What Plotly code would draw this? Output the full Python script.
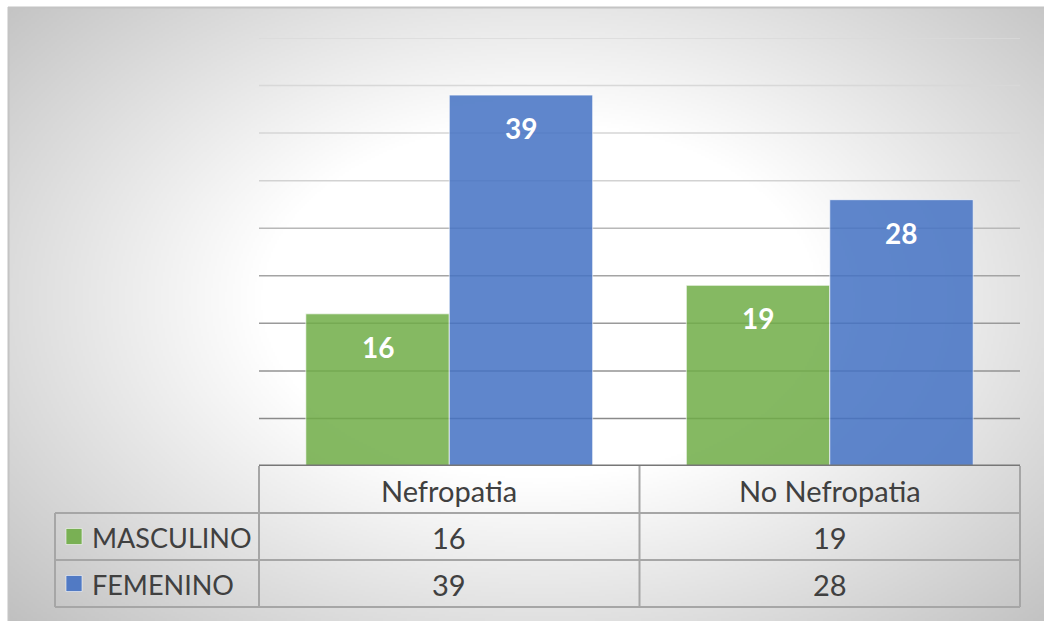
import base64
import struct
import zlib

import numpy as np
import plotly.graph_objects as go

# ---- data -----------------------------------------------------------------
categories = ["Nefropatia", "No Nefropatia"]
series_names = ["MASCULINO", "FEMENINO"]
masculino = [16, 19]
femenino = [39, 28]
y_ticks = [5, 10, 15, 20, 25, 30, 35, 40, 45]

# ---- styling --------------------------------------------------------------
series_values = [masculino, femenino]
series_colors = ["#70ad47", "#4472c4"]
grid_colors = ["#8a8a8a", "#939393", "#9a9a9a", "#a4a4a4", "#b8b8b8",
               "#d2d2d2", "#d6d6d6", "#d8d8d8", "#dadada"]
FONT = "Lato"
TEXT = "#404040"

W, H = 1044, 621
ML, MR, MT, MB = 259, 24, 38, 155
PW = W - ML - MR
PH = H - MT - MB
BARGAP = 0.246


def px(x):
    """Pixel column -> paper x."""
    return (x - ML) / PW


def py(y):
    """Pixel row -> paper y."""
    return (H - MB - y) / PH


def gradient_png(w, h):
    """Soft radial gray-to-white fill for the chart area, as a PNG data URI."""
    xs = np.linspace(8, W, w)
    ys = np.linspace(7, H, h)
    X, Y = np.meshgrid(xs, ys)
    r = np.sqrt(((X - 540) / 560) ** 2 + ((Y - 300) / 360) ** 2)
    v = np.clip(255 - 78 * np.clip(r - 0.5, 0, None), 188, 255).astype(np.uint8)
    raw = b"".join(b"\x00" + row.tobytes() for row in v)

    def chunk(tag, data):
        return (struct.pack(">I", len(data)) + tag + data
                + struct.pack(">I", zlib.crc32(tag + data) & 0xFFFFFFFF))

    png = (b"\x89PNG\r\n\x1a\n"
           + chunk(b"IHDR", struct.pack(">IIBBBBB", w, h, 8, 0, 0, 0, 0))
           + chunk(b"IDAT", zlib.compress(raw, 9))
           + chunk(b"IEND", b""))
    return "data:image/png;base64," + base64.b64encode(png).decode()


fig = go.Figure()

for name, vals, col in zip(series_names, series_values, series_colors):
    fig.add_bar(
        x=categories, y=vals, name=name,
        marker=dict(color=col, opacity=0.85,
                    line=dict(color="rgba(255,255,255,0.7)", width=1)),
        showlegend=False, hoverinfo="x+y+name",
    )

shapes = []
annotations = []

# horizontal gridlines
for t, gc in zip(y_ticks, grid_colors):
    shapes.append(dict(type="line", xref="paper", yref="y", x0=0, x1=1,
                       y0=t, y1=t, layer="below",
                       line=dict(color=gc, width=1.5)))

# value labels inside the bars
half = (1 - BARGAP) / 4
for s, vals in enumerate(series_values):
    off = -half if s == 0 else half
    for i, v in enumerate(vals):
        annotations.append(dict(
            x=i + off, y=v, xref="x", yref="y", text="<b>%d</b>" % v,
            showarrow=False, yshift=-33, yanchor="middle", xanchor="center",
            font=dict(family=FONT, size=28, color="white")))

# data table under the plot
line_c = "#a6a6a6"
row_header, row1, row2, row_bot = 466, 513, 560, 607
for yy in (row1, row2, row_bot):
    shapes.append(dict(type="line", xref="paper", yref="paper",
                       x0=px(55), x1=1, y0=py(yy), y1=py(yy),
                       line=dict(color=line_c, width=2)))
for xx in (0, 0.5, 1):
    shapes.append(dict(type="line", xref="paper", yref="paper",
                       x0=xx, x1=xx, y0=py(row_header), y1=py(row_bot),
                       line=dict(color=line_c, width=2)))
shapes.append(dict(type="line", xref="paper", yref="paper",
                   x0=px(55), x1=px(55), y0=py(row1), y1=py(row_bot),
                   line=dict(color=line_c, width=2)))
# category axis baseline
shapes.append(dict(type="line", xref="paper", yref="y", x0=0, x1=1,
                   y0=0, y1=0, line=dict(color="#777777", width=3)))

for i, cat in enumerate(categories):
    annotations.append(dict(x=i, y=py((row_header + row1) / 2 + 1), xref="x",
                            yref="paper", text=cat, showarrow=False,
                            xanchor="center", yanchor="middle",
                            font=dict(family=FONT, size=29, color=TEXT)))
row_mid = [(row1 + row2) / 2, (row2 + row_bot) / 2]
for s, (name, vals, col) in enumerate(zip(series_names, series_values,
                                           series_colors)):
    ym = row_mid[s]
    for i, v in enumerate(vals):
        annotations.append(dict(x=i, y=py(ym + 1), xref="x", yref="paper",
                                text=str(v), showarrow=False,
                                xanchor="center", yanchor="middle",
                                font=dict(family=FONT, size=29, color=TEXT)))
    annotations.append(dict(x=px(90), y=py(ym + 1), xref="paper", yref="paper",
                            text=name, showarrow=False, xanchor="left",
                            yanchor="middle",
                            font=dict(family=FONT, size=27, color=TEXT)))
    shapes.append(dict(type="rect", xref="paper", yref="paper",
                       x0=px(66), x1=px(82), y0=py(ym - 8), y1=py(ym + 8),
                       fillcolor=col, opacity=0.9,
                       line=dict(color="rgba(255,255,255,0.6)", width=1)))

# chart-area frame
shapes.append(dict(type="line", xref="paper", yref="paper",
                   x0=px(8), x1=px(W + 2), y0=py(7.5), y1=py(7.5),
                   line=dict(color="#c4c4c4", width=2)))
shapes.append(dict(type="line", xref="paper", yref="paper",
                   x0=px(8.5), x1=px(8.5), y0=py(7), y1=py(H + 2),
                   line=dict(color="#c4c4c4", width=2)))

fig.update_layout(
    width=W, height=H,
    margin=dict(l=ML, r=MR, t=MT, b=MB),
    paper_bgcolor="white",
    plot_bgcolor="rgba(0,0,0,0)",
    barmode="group", bargap=BARGAP, bargroupgap=0,
    xaxis=dict(range=[-0.5, 1.5], showticklabels=False, showgrid=False,
               zeroline=False, showline=False, fixedrange=True),
    yaxis=dict(range=[0, 45], showticklabels=False, showgrid=False,
               zeroline=False, showline=False, fixedrange=True),
    shapes=shapes,
    annotations=annotations,
    images=[dict(source=gradient_png(518, 307), xref="paper", yref="paper",
                 x=px(8), y=py(7), sizex=(W - 8) / PW, sizey=(H - 7) / PH,
                 xanchor="left", yanchor="top", sizing="stretch",
                 layer="below")],
    font=dict(family=FONT, color=TEXT),
)

fig.write_html("out.html")
